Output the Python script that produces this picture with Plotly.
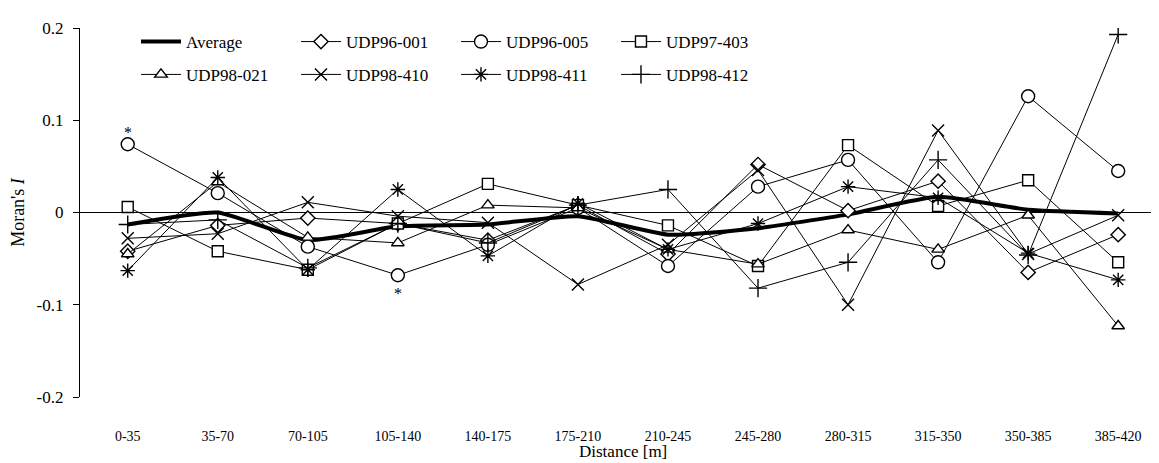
import plotly.graph_objects as go

categories = ["0-35", "35-70", "70-105", "105-140", "140-175", "175-210",
              "210-245", "245-280", "280-315", "315-350", "350-385", "385-420"]

average    = [-0.013, 0.000, -0.030, -0.015, -0.013, -0.004, -0.024, -0.017, -0.002, 0.017, 0.003, -0.001]
udp96_001  = [-0.042, -0.014, -0.006, -0.012, -0.030, 0.008, -0.045, 0.052, 0.002, 0.034, -0.065, -0.024]
udp96_005  = [0.074, 0.021, -0.037, -0.068, -0.035, 0.005, -0.058, 0.028, 0.057, -0.054, 0.126, 0.045]
udp97_403  = [0.006, -0.042, -0.062, -0.012, 0.031, 0.008, -0.014, -0.058, 0.073, 0.007, 0.035, -0.054]
udp98_021  = [-0.045, 0.033, -0.027, -0.033, 0.008, 0.005, -0.040, -0.056, -0.019, -0.040, -0.003, -0.123]
udp98_410  = [-0.028, -0.023, 0.011, -0.004, -0.011, -0.078, -0.035, 0.046, -0.100, 0.089, -0.045, -0.003]
udp98_411  = [-0.063, 0.038, -0.062, 0.025, -0.047, 0.010, -0.040, -0.012, 0.028, 0.016, -0.044, -0.073]
udp98_412  = [-0.013, -0.008, -0.060, -0.012, -0.033, 0.008, 0.025, -0.082, -0.054, 0.057, -0.046, 0.193]

y_ticks = [-0.2, -0.1, 0, 0.1, 0.2]
y_tick_labels = ["-0.2", "-0.1", "0", "0.1", "0.2"]

# significance markers: (category index, series value, pixel shift)
significant = [(0, udp96_005[0], 12), (3, udp96_005[3], -18)]

FONT = "Liberation Serif"
xs = list(range(len(categories)))

# name, values, symbol, size, fill colour, legend group
series = [
    ("UDP96-001", udp96_001, "diamond", 11, "white", "legend"),
    ("UDP96-005", udp96_005, "circle", 13, "white", "legend"),
    ("UDP97-403", udp97_403, "square", 11, "white", "legend"),
    ("UDP98-021", udp98_021, "triangle-up", 11, "white", "legend2"),
    ("UDP98-410", udp98_410, "x-thin-open", 12, "black", "legend2"),
    ("UDP98-411", udp98_411, "asterisk-open", 12, "black", "legend2"),
    ("UDP98-412", udp98_412, "cross-thin-open", 13, "black", "legend2"),
]

fig = go.Figure()

# zero line
fig.add_hline(y=0, line=dict(color="black", width=1.2), layer="below")

fig.add_trace(go.Scatter(
    x=xs, y=average, name="Average", mode="lines",
    line=dict(color="black", width=4, shape="spline", smoothing=0.5),
    legend="legend"))

for name, vals, sym, size, fill, lg in series:
    fig.add_trace(go.Scatter(
        x=xs, y=vals, name=name, mode="lines+markers",
        line=dict(color="black", width=1),
        marker=dict(symbol=sym, size=size, color=fill,
                    line=dict(color="black", width=1.4)),
        legend=lg))

for idx, val, sh in significant:
    fig.add_annotation(x=idx, y=val, text="*", showarrow=False,
                       yshift=sh, font=dict(family=FONT, size=16, color="black"))

# x-axis title placed as an annotation below the tick labels
fig.add_annotation(x=0.5, xref="paper", y=-0.147, yref="paper", text="Distance [m]",
                   showarrow=False, yanchor="middle",
                   font=dict(family=FONT, size=17, color="black"))

legend_common = dict(orientation="h", xref="paper", yref="paper",
                     xanchor="left", yanchor="middle",
                     entrywidth=105, entrywidthmode="pixels",
                     font=dict(family=FONT, size=17, color="black"),
                     bgcolor="rgba(0,0,0,0)", traceorder="normal",
                     itemwidth=40, tracegroupgap=0)

fig.update_layout(
    width=1159, height=463,
    paper_bgcolor="white", plot_bgcolor="white",
    margin=dict(l=72, r=2, t=20, b=74, autoexpand=False),
    font=dict(family=FONT, size=13, color="black"),
    showlegend=True,
    legend=dict(x=0.0516, y=0.962, **legend_common),
    legend2=dict(x=0.0516, y=0.873, **legend_common),
    xaxis=dict(range=[-0.53, 11.52], tickmode="array", tickvals=xs, ticktext=categories,
               showgrid=False, zeroline=False, showline=False, ticks="",
               ticklabelstandoff=29, automargin=False,
               tickfont=dict(family=FONT, size=14)),
    yaxis=dict(range=[-0.2, 0.2], tickmode="array", tickvals=y_ticks, ticktext=y_tick_labels,
               showgrid=False, zeroline=False, showline=True, linecolor="black", linewidth=1.2,
               ticks="outside", ticklen=6, tickcolor="black", automargin=False,
               ticklabelstandoff=6,
               tickfont=dict(family=FONT, size=17),
               title=dict(text="Moran's <i>I</i>", font=dict(family=FONT, size=18), standoff=14)),
)

fig.write_html("out.html")
